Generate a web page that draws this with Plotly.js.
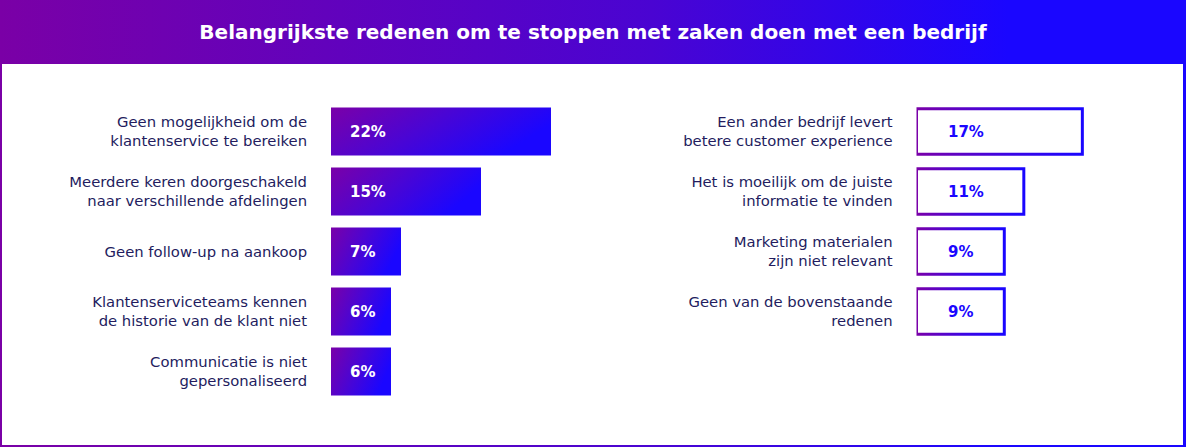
<!DOCTYPE html>
<html>
<head>
<meta charset="utf-8">
<script src="https://cdn.plot.ly/plotly-3.0.1.min.js"></script>
<style>
  html, body { margin:0; padding:0; background:#fff; }
  #wrap { position:relative; width:1186px; height:447px; overflow:hidden;
          background:linear-gradient(90deg,#7a00a6 0%,#4a04d2 55%,#1a06ff 85%,#1a06ff 100%); }
  #inner { position:absolute; left:2px; right:3px; top:64px; bottom:2px; background:#fff; }
  #chart { position:absolute; left:0; top:0; width:1186px; height:447px; }
</style>
</head>
<body>
<div id="wrap">
  <div id="inner"></div>
  <div id="chart"></div>
</div>
<script>
// ---- data ----
const chartTitle = "Belangrijkste redenen om te stoppen met zaken doen met een bedrijf";
const leftCategories = [
  "Geen mogelijkheid om de<br>klantenservice te bereiken",
  "Meerdere keren doorgeschakeld<br>naar verschillende afdelingen",
  "Geen follow-up na aankoop",
  "Klantenserviceteams kennen<br>de historie van de klant niet",
  "Communicatie is niet<br>gepersonaliseerd"
];
const leftValues = [22, 15, 7, 6, 6];
const rightCategories = [
  "Een ander bedrijf levert<br>betere customer experience",
  "Het is moeilijk om de juiste<br>informatie te vinden",
  "Marketing materialen<br>zijn niet relevant",
  "Geen van de bovenstaande<br>redenen"
];
const rightValues = [17, 11, 9, 9];

// ---- styling ----
const W = 1186, H = 447;
const navy = "#231c5e";
const blue = "#1a06ff";
const labelFont = {family:"DejaVu Sans", size:14.8, color:navy};
const valueFont = {family:"DejaVu Sans", size:15};

const leftIdx = leftCategories.map((_, i) => i);
const rightIdx = rightCategories.map((_, i) => i);

const traces = [
  {type:"bar", orientation:"h", x:leftValues, y:leftIdx, xaxis:"x", yaxis:"y",
   width:0.8, marker:{color:"#5a03cc", line:{width:0}}, hoverinfo:"none"},
  {type:"bar", orientation:"h", x:rightValues, y:rightIdx, xaxis:"x2", yaxis:"y2",
   width:0.76, marker:{color:"#ffffff", line:{width:3, color:blue}}, hoverinfo:"none"}
];

const yTop = 1 - 101.5 / H, yBot = 1 - 401.5 / H;

const annotations = [];
leftValues.forEach((v, i) => annotations.push({
  xref:"x", yref:"y", x:0, y:i, xanchor:"left", yanchor:"middle", xshift:17,
  text:"<b>" + v + "%</b>", showarrow:false, font:Object.assign({}, valueFont, {color:"#ffffff"})
}));
rightValues.forEach((v, i) => annotations.push({
  xref:"x2", yref:"y2", x:0, y:i, xanchor:"left", yanchor:"middle", xshift:29,
  text:"<b>" + v + "%</b>", showarrow:false, font:Object.assign({}, valueFont, {color:blue})
}));

const axX = {showgrid:false, zeroline:false, showticklabels:false, showline:false, fixedrange:true};
const axY = {type:"linear", showgrid:false, zeroline:false, showline:false, range:[4.5, -0.5],
             ticks:"outside", ticklen:20, tickcolor:"rgba(0,0,0,0)", tickfont:labelFont};

const layout = {
  width:W, height:H, margin:{l:0, r:0, t:0, b:0},
  paper_bgcolor:"rgba(0,0,0,0)", plot_bgcolor:"rgba(0,0,0,0)",
  showlegend:false,
  title:{text:"<b>" + chartTitle + "</b>", x:0.5, xanchor:"center", y:1 - 32 / H, yanchor:"middle",
         font:{family:"DejaVu Sans", size:20, color:"#ffffff"}},
  xaxis:Object.assign({}, axX, {domain:[331 / W, 631 / W], range:[0, 30], anchor:"y"}),
  yaxis:Object.assign({}, axY, {domain:[yBot, yTop], anchor:"x",
         tickmode:"array", tickvals:leftIdx, ticktext:leftCategories}),
  xaxis2:Object.assign({}, axX, {domain:[916.5 / W, 1116.5 / W], range:[0, 20.5], anchor:"y2"}),
  yaxis2:Object.assign({}, axY, {domain:[yBot, yTop], anchor:"x2",
         tickmode:"array", tickvals:rightIdx, ticktext:rightCategories}),
  annotations:annotations
};

function applyGradients() {
  const svg = document.querySelector("#chart .main-svg");
  if (!svg) return;
  const NS = "http://www.w3.org/2000/svg";
  let defs = svg.querySelector("defs");
  if (!defs) { defs = document.createElementNS(NS, "defs"); svg.insertBefore(defs, svg.firstChild); }
  function grad(id, stops, x2, y2) {
    const g = document.createElementNS(NS, "linearGradient");
    g.setAttribute("id", id);
    g.setAttribute("x1", "0"); g.setAttribute("y1", "0");
    g.setAttribute("x2", x2); g.setAttribute("y2", y2);
    stops.forEach(s => {
      const st = document.createElementNS(NS, "stop");
      st.setAttribute("offset", s[0]); st.setAttribute("stop-color", s[1]);
      g.appendChild(st);
    });
    defs.appendChild(g);
  }
  grad("gFill", [["0", "#7a00a8"], ["0.5", "#4a05d4"], ["1", "#1a06ff"]], "1", "0.35");
  grad("gLine", [["0", "#7a00a8"], ["0.55", "#3b05e4"], ["1", "#1a06ff"]], "1", "0");
  const traceGroups = document.querySelectorAll("#chart .barlayer .trace");
  traceGroups.forEach((tg, ti) => {
    tg.querySelectorAll("path").forEach(p => {
      if (ti === 0) { p.style.fill = "url(#gFill)"; }
      else { p.style.stroke = "url(#gLine)"; }
    });
  });
}

Plotly.newPlot("chart", traces, layout, {displayModeBar:false, staticPlot:true}).then(applyGradients);
</script>
</body>
</html>
